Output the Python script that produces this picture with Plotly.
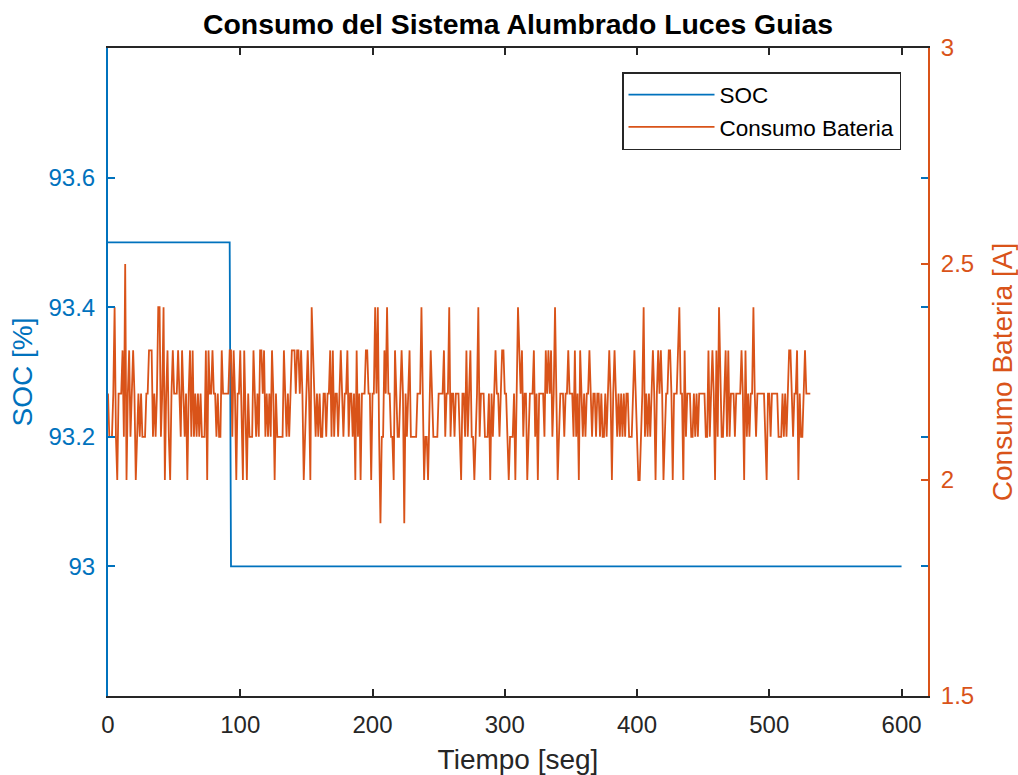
import plotly.graph_objects as go

# ---- data -------------------------------------------------------------
titulo = "Consumo del Sistema Alumbrado Luces Guias"

# state of charge: flat at 93.5 % then a single step down to 93 %
soc_tiempo = [0, 92, 93, 600]
soc_valores = [93.5, 93.5, 93.0, 93.0]

# battery current, one sample per second [A]
consumo_bateria = [
    2.2, 2.1, 2.1, 2.1, 2.2, 2.4, 2.1, 2.0, 2.2, 2.2,
    2.2, 2.3, 2.1, 2.5, 2.0, 2.2, 2.3, 2.1, 2.2, 2.3,
    2.2, 2.0, 2.1, 2.2, 2.1, 2.2, 2.1, 2.1, 2.1, 2.2,
    2.2, 2.3, 2.3, 2.3, 2.1, 2.2, 2.1, 2.2, 2.4, 2.4,
    2.1, 2.2, 2.4, 2.0, 2.2, 2.3, 2.1, 2.0, 2.2, 2.3,
    2.2, 2.2, 2.2, 2.3, 2.2, 2.1, 2.3, 2.2, 2.1, 2.2,
    2.0, 2.2, 2.3, 2.1, 2.3, 2.1, 2.2, 2.1, 2.2, 2.1,
    2.2, 2.1, 2.1, 2.1, 2.3, 2.0, 2.3, 2.2, 2.2, 2.3,
    2.2, 2.2, 2.1, 2.2, 2.1, 2.1, 2.3, 2.2, 2.2, 2.2,
    2.2, 2.2, 2.3,
    2.3, 2.1, 2.3, 2.2, 2.0, 2.2, 2.2, 2.3, 2.1, 2.0,
    2.3, 2.1, 2.0, 2.2, 2.1, 2.1, 2.1, 2.3, 2.2, 2.1,
    2.2, 2.1, 2.3, 2.3, 2.2, 2.3, 2.1, 2.2, 2.1, 2.2,
    2.1, 2.3, 2.2, 2.0, 2.2, 2.1, 2.1, 2.1, 2.1, 2.1,
    2.3, 2.2, 2.1, 2.2, 2.1, 2.2, 2.3, 2.3, 2.3, 2.2,
    2.3, 2.3, 2.2, 2.3, 2.2, 2.0, 2.1, 2.2, 2.3, 2.2,
    2.0, 2.4, 2.3, 2.2, 2.1, 2.2, 2.1, 2.2, 2.1, 2.1,
    2.2, 2.2, 2.1, 2.2, 2.2, 2.3, 2.1, 2.3, 2.1, 2.2,
    2.2, 2.1, 2.2, 2.3, 2.2, 2.1, 2.2, 2.2, 2.3, 2.1,
    2.2, 2.2, 2.1,
    2.2, 2.0, 2.3, 2.1, 2.2, 2.0, 2.2, 2.2, 2.2, 2.3,
    2.3, 2.2, 2.2, 2.0, 2.2, 2.2, 2.4, 2.2, 2.4, 2.1,
    1.9, 2.1, 2.1, 2.3, 2.2, 2.4, 2.2, 2.2, 2.1, 2.1,
    2.0, 2.3, 2.2, 2.1, 2.1, 2.2, 2.3, 2.2, 1.9, 2.2,
    2.1, 2.2, 2.3, 2.1, 2.1, 2.1, 2.1, 2.1, 2.2, 2.2,
    2.2, 2.4, 2.2, 2.0, 2.1, 2.1, 2.0, 2.2, 2.3, 2.2,
    2.1, 2.1, 2.1, 2.1, 2.2, 2.2, 2.2, 2.2, 2.3, 2.1,
    2.2, 2.2, 2.4, 2.1, 2.2, 2.2, 2.1, 2.2, 2.2, 2.2,
    2.1, 2.0, 2.2, 2.2, 2.1, 2.3, 2.1, 2.2, 2.3, 2.1,
    2.1, 2.0, 2.1, 2.2,
    2.4, 2.1, 2.2, 2.2, 2.2, 2.1, 2.1, 2.1, 2.2, 2.0,
    2.2, 2.1, 2.2, 2.3, 2.2, 2.2, 2.1, 2.2, 2.3, 2.3,
    2.2, 2.2, 2.1, 2.0, 2.1, 2.1, 2.1, 2.2, 2.0, 2.2,
    2.4, 2.3, 2.2, 2.3, 2.1, 2.2, 2.2, 2.0, 2.1, 2.2,
    2.2, 2.2, 2.3, 2.1, 2.2, 2.0, 2.2, 2.2, 2.2, 2.2,
    2.1, 2.3, 2.2, 2.3, 2.2, 2.3, 2.1, 2.2, 2.4, 2.2,
    2.0, 2.1, 2.2, 2.2, 2.2, 2.1, 2.2, 2.2, 2.3, 2.2,
    2.2, 2.2, 2.1, 2.3, 2.1, 2.2, 2.0, 2.3, 2.2, 2.1,
    2.2, 2.1, 2.2, 2.2, 2.3, 2.2, 2.1, 2.2, 2.2, 2.1,
    2.2, 2.2, 2.1, 2.2,
    2.1, 2.1, 2.2, 2.1, 2.2, 2.3, 2.2, 2.0, 2.2, 2.3,
    2.2, 2.1, 2.2, 2.1, 2.2, 2.1, 2.2, 2.1, 2.2, 2.2,
    2.1, 2.1, 2.1, 2.2, 2.3, 2.2, 2.1, 2.0, 2.0, 2.1,
    2.2, 2.4, 2.1, 2.2, 2.1, 2.2, 2.1, 2.2, 2.3, 2.2,
    2.0, 2.2, 2.3, 2.2, 2.3, 2.2, 2.0, 2.1, 2.2, 2.2,
    2.3, 2.3, 2.2, 2.0, 2.2, 2.2, 2.2, 2.3, 2.4, 2.2,
    2.2, 2.0, 2.3, 2.1, 2.2, 2.2, 2.2, 2.1, 2.1, 2.2,
    2.1, 2.2, 2.1, 2.2, 2.2, 2.2, 2.2, 2.2, 2.1, 2.1,
    2.3, 2.1, 2.2, 2.3, 2.2, 2.0, 2.3, 2.1, 2.4, 2.2,
    2.1, 2.1, 2.2, 2.3,
    2.1, 2.3, 2.1, 2.2, 2.2, 2.2, 2.1, 2.2, 2.2, 2.2,
    2.2, 2.3, 2.2, 2.0, 2.3, 2.1, 2.2, 2.1, 2.2, 2.2,
    2.4, 2.2, 2.1, 2.2, 2.2, 2.2, 2.2, 2.2, 2.2, 2.1,
    2.0, 2.2, 2.2, 2.1, 2.2, 2.2, 2.2, 2.2, 2.2, 2.1,
    2.1, 2.1, 2.2, 2.1, 2.2, 2.1, 2.2, 2.3, 2.3, 2.2,
    2.1, 2.2, 2.2, 2.3, 2.0, 2.2, 2.1, 2.1, 2.2, 2.3,
    2.2, 2.2, 2.2, 2.2,
]
consumo_tiempo = list(range(len(consumo_bateria)))

x_ticks = [0, 100, 200, 300, 400, 500, 600]
soc_ticks = [93.0, 93.2, 93.4, 93.6]
soc_tick_text = ["93", "93.2", "93.4", "93.6"]
consumo_ticks = [1.5, 2.0, 2.5, 3.0]
consumo_tick_text = ["1.5", "2", "2.5", "3"]

# ---- styling ----------------------------------------------------------
AZUL = "#0072BD"
NARANJA = "#D95319"
GRIS = "#262626"
FUENTE = "Liberation Sans, Arial, Helvetica, sans-serif"

fig = go.Figure()
fig.add_trace(go.Scatter(
    x=soc_tiempo, y=soc_valores, name="SOC", mode="lines",
    line=dict(color=AZUL, width=1.8), yaxis="y",
))
fig.add_trace(go.Scatter(
    x=consumo_tiempo, y=consumo_bateria, name="Consumo Bateria", mode="lines",
    line=dict(color=NARANJA, width=1.8), yaxis="y2",
))

fig.update_layout(
    width=1018, height=775,
    margin=dict(l=108, r=90, t=48, b=79, autoexpand=False),
    paper_bgcolor="white", plot_bgcolor="white",
    font=dict(family=FUENTE, size=24, color=GRIS),
    title=dict(
        text="<b>" + titulo + "</b>",
        font=dict(family=FUENTE, size=28.4, color="black"),
        x=0.5, xref="paper", xanchor="center",
        y=1 - 24.5 / 775, yref="container", yanchor="middle",
    ),
    xaxis=dict(
        range=[0, 620], tickvals=x_ticks,
        ticks="inside", ticklen=7, tickwidth=1.5, tickcolor=GRIS,
        showline=True, linecolor=GRIS, linewidth=2, mirror="ticks",
        showgrid=False, zeroline=False,
        tickfont=dict(size=24, color=GRIS), ticklabelstandoff=6,
        title=dict(text="Tiempo [seg]", font=dict(size=28, color=GRIS), standoff=13),
    ),
    yaxis=dict(
        range=[92.8, 93.8], tickvals=soc_ticks, ticktext=soc_tick_text,
        ticks="inside", ticklen=7, tickwidth=1.5, tickcolor=AZUL,
        showline=True, linecolor=AZUL, linewidth=2, mirror="ticks",
        showgrid=False, zeroline=False,
        tickfont=dict(size=24, color=AZUL), ticklabelstandoff=6,
        title=dict(text="SOC [%]", font=dict(size=28, color=AZUL), standoff=8),
    ),
    yaxis2=dict(
        range=[1.5, 3.0], tickvals=consumo_ticks, ticktext=consumo_tick_text,
        overlaying="y", side="right",
        ticks="inside", ticklen=7, tickwidth=1.5, tickcolor=NARANJA,
        showline=True, linecolor=NARANJA, linewidth=2,
        showgrid=False, zeroline=False,
        tickfont=dict(size=24, color=NARANJA), ticklabelstandoff=6,
        title=dict(text="Consumo Bateria [A]", font=dict(size=28, color=NARANJA), standoff=20),
    ),
    legend=dict(
        x=(622 - 108) / 820, y=(696 - 72) / 648,
        xanchor="left", yanchor="top",
        bgcolor="white", bordercolor=GRIS, borderwidth=1.5,
        font=dict(family=FUENTE, size=22.5, color="black"),
        itemwidth=86, tracegroupgap=0,
    ),
    showlegend=True,
)

fig.write_html("out.html")
